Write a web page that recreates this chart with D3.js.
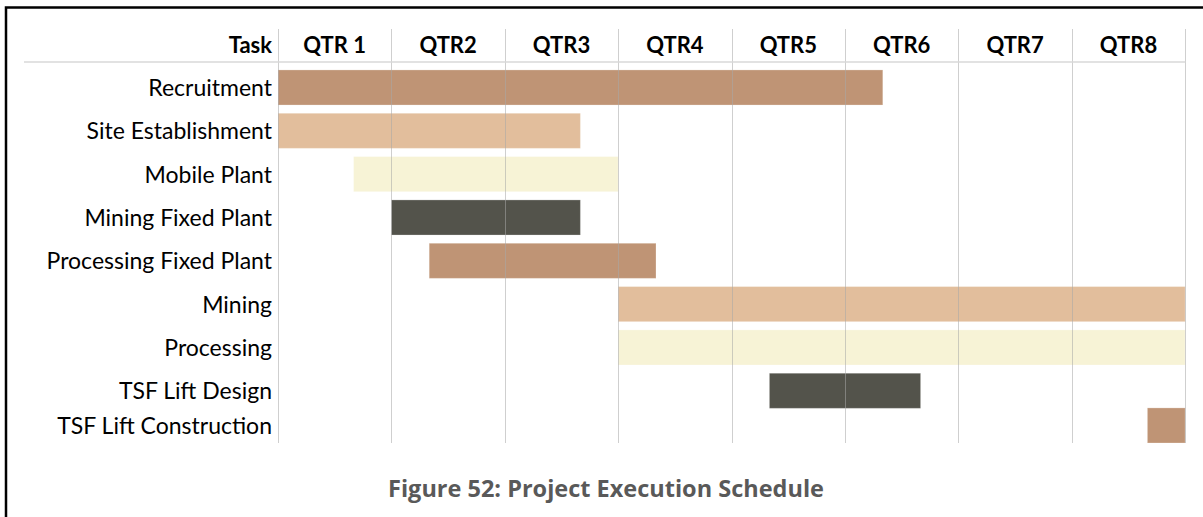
<!DOCTYPE html>
<html>
<head>
<meta charset="utf-8">
<script src="https://cdn.jsdelivr.net/npm/d3@7"></script>
<style>
  html, body { margin: 0; padding: 0; background: #fff; }
  svg { display: block; }
</style>
</head>
<body>
<svg id="chart" width="1203" height="517"></svg>
<script>
// schedule data, in months from the start of QTR 1
const tasks = ['Recruitment', 'Site Establishment', 'Mobile Plant', 'Mining Fixed Plant',
  'Processing Fixed Plant', 'Mining', 'Processing', 'TSF Lift Design', 'TSF Lift Construction'];
const startMonth = [0, 0, 2, 3, 4, 9, 9, 13, 23];
const endMonth = [16, 8, 9, 8, 10, 24, 24, 17, 24];
const quarters = ['QTR 1', 'QTR2', 'QTR3', 'QTR4', 'QTR5', 'QTR6', 'QTR7', 'QTR8'];
const palette = ['#bf9475', '#e2be9c', '#f7f3d6', '#53534b'];

const svg = d3.select('#chart');

const left = 278, right = 1185.2;
const headerY = 61.7, plotBottom = 443, gridTop = 29;

const x = d3.scaleLinear()
  .domain([0, quarters.length * 3])
  .range([left, right]);

const y = d3.scaleBand()
  .domain(tasks)
  .range([headerY, headerY + 43.33 * 9.19])
  .paddingInner(0.19)
  .paddingOuter(0.19);

const color = d3.scaleOrdinal().domain([0, 1, 2, 3]).range(palette);

// outer frame (top + left edge)
svg.append('path')
  .attr('d', 'M6,517V7.5H1203')
  .attr('fill', 'none')
  .attr('stroke', '#000')
  .attr('stroke-width', 2.5);

const rows = tasks.map((t, i) => ({ task: t, start: startMonth[i], end: endMonth[i], i: i }));

// last row is squeezed against the bottom of the plot
const rowTop = d => Math.min(y(d.task), plotBottom - y.bandwidth());

svg.append('g')
  .selectAll('rect')
  .data(rows)
  .enter()
  .append('rect')
  .attr('x', d => x(d.start))
  .attr('y', rowTop)
  .attr('width', d => x(d.end) - x(d.start))
  .attr('height', y.bandwidth())
  .attr('fill', d => color(d.i % 4))
  .attr('stroke', '#fff')
  .attr('stroke-opacity', 0.25)
  .attr('stroke-width', 1);

// quarter gridlines drawn over the bars
const quarterEdges = d3.range(quarters.length + 1).map(q => q * 3);
svg.append('g')
  .selectAll('line')
  .data(quarterEdges)
  .enter()
  .append('line')
  .attr('x1', d => Math.round(x(d)) + 0.5)
  .attr('x2', d => Math.round(x(d)) + 0.5)
  .attr('y1', gridTop)
  .attr('y2', plotBottom)
  .attr('stroke', '#a8a8a8')
  .attr('stroke-opacity', 0.55)
  .attr('stroke-width', 1);

// header rule
svg.append('line')
  .attr('x1', 24).attr('x2', right)
  .attr('y1', 62).attr('y2', 62)
  .attr('stroke', '#d9d9d9')
  .attr('stroke-width', 1.5);

// header labels
svg.append('text')
  .attr('x', 272).attr('y', 53)
  .attr('text-anchor', 'end')
  .attr('font-family', 'Lato, sans-serif')
  .attr('font-weight', 'bold')
  .attr('font-size', 22)
  .attr('fill', '#000')
  .text('Task');

svg.append('g')
  .selectAll('text')
  .data(quarters)
  .enter()
  .append('text')
  .attr('x', (d, i) => x(i * 3 + 1.5))
  .attr('y', 53)
  .attr('text-anchor', 'middle')
  .attr('font-family', 'Lato, sans-serif')
  .attr('font-weight', 'bold')
  .attr('font-size', 22)
  .attr('fill', '#000')
  .text(d => d);

// task labels
svg.append('g')
  .selectAll('text')
  .data(rows)
  .enter()
  .append('text')
  .attr('x', 272)
  .attr('y', d => rowTop(d) + y.bandwidth() / 2 + 8.5)
  .attr('text-anchor', 'end')
  .attr('font-family', 'Lato, sans-serif')
  .attr('font-size', 23)
  .attr('fill', '#000')
  .text(d => d.task);

// caption
svg.append('text')
  .attr('x', 606).attr('y', 497)
  .attr('text-anchor', 'middle')
  .attr('font-family', '"Open Sans", sans-serif')
  .attr('font-weight', 'bold')
  .attr('font-size', 23.5)
  .attr('fill', '#595959')
  .text('Figure 52: Project Execution Schedule');
</script>
</body>
</html>
